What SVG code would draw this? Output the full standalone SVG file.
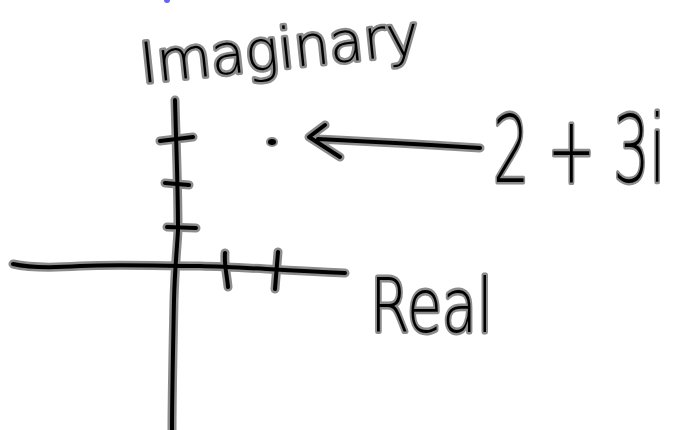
<svg xmlns="http://www.w3.org/2000/svg" xmlns:xlink="http://www.w3.org/1999/xlink" width="677" height="430" viewBox="0 0 677 430">
<style>
.halo{fill:none;stroke:#8c8c8c;stroke-width:9;stroke-linecap:round;stroke-linejoin:round}
.ink{fill:none;stroke:#000;stroke-width:4;stroke-linecap:round;stroke-linejoin:round}
.hand{font-family:"DejaVu Sans",sans-serif;font-weight:200;fill:#000;stroke:#8c8c8c;stroke-width:5;stroke-linejoin:round;paint-order:stroke}
</style>
<defs>
<path id="vaxis" d="M175,100 C176,140 178,185 178,230 C177,250 175,265 174,300 C173,350 172,400 172,430"/>
<path id="haxis" d="M13,264 C30,268 50,268 80,266 C120,264 150,266 200,266 C240,267 275,270 345,273"/>
<path id="ticks" d="M160,141 L193,137 M165,183 L189,185 M167,227 L196,228 M225,253 C224,265 227,275 228,287 M278,252 L275,289"/>
<path id="arrow" d="M325,125 L309,137 L340,157 M318,139 C360,141 400,143 480,148"/>
</defs>
<rect width="677" height="430" fill="#fff"/>
<circle cx="167" cy="0" r="3" fill="#3b3bff" opacity="0.8"/>
<g id="connectors">
<use xlink:href="#vaxis" class="halo"/>
<use xlink:href="#haxis" class="halo"/>
<use xlink:href="#ticks" class="halo"/>
<use xlink:href="#arrow" class="halo"/>
<use xlink:href="#vaxis" class="ink"/>
<use xlink:href="#haxis" class="ink"/>
<use xlink:href="#ticks" class="ink"/>
<use xlink:href="#arrow" class="ink"/>
</g>
<g id="point">
<ellipse cx="272" cy="142" rx="6" ry="5" fill="#8c8c8c"/>
<ellipse cx="272" cy="142" rx="4" ry="3" fill="#000"/>
</g>
<g id="imaginary-label" transform="translate(142,83) rotate(-6)">
<text class="hand" x="0" y="0" font-size="56">Imaginary</text>
</g>
<g id="real-label" transform="translate(370,332) scale(0.77,1)">
<text class="hand" x="0" y="0" font-size="74">Real</text>
</g>
<g id="point-label" transform="translate(493,182) scale(0.62,1)">
<text class="hand" x="0" y="0" font-size="92">2 + 3i</text>
</g>
</svg>
